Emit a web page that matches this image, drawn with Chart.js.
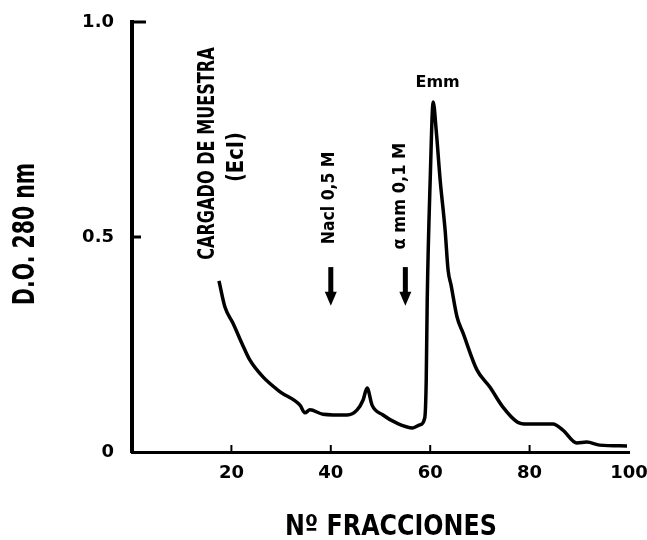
<!DOCTYPE html>
<html>
<head>
<meta charset="utf-8">
<script src="https://cdn.jsdelivr.net/npm/chart.js@4.4.1/dist/chart.umd.min.js"></script>
<style>
  html, body { margin: 0; padding: 0; background: #fff; }
  canvas { display: block; }
</style>
</head>
<body>
<canvas id="elution" width="647" height="540"></canvas>
<script>
// perfil de elución: nº de fracción y D.O. a 280 nm
const fractions = [17.5, 18.7, 20.3, 22.1, 23.7, 26.4, 29.8, 33.8, 34.8, 35.8, 38.4, 43.3, 45.3, 46.5, 47.3, 48.3, 50.5, 53.3, 56.5, 57.9, 58.9, 59.2, 59.4, 60.0, 60.6, 61.2, 62.0, 63.0, 63.6, 64.2, 65.4, 66.6, 69.4, 72.0, 74.6, 77.5, 79.5, 84.7, 86.7, 89.5, 91.5, 94.1, 99.6];
const absorbance = [0.398, 0.337, 0.300, 0.253, 0.214, 0.174, 0.140, 0.109, 0.091, 0.098, 0.088, 0.086, 0.098, 0.121, 0.149, 0.109, 0.086, 0.067, 0.056, 0.063, 0.079, 0.167, 0.353, 0.633, 0.814, 0.749, 0.633, 0.516, 0.423, 0.388, 0.314, 0.277, 0.191, 0.151, 0.105, 0.070, 0.065, 0.065, 0.051, 0.021, 0.023, 0.016, 0.014];

const xTicks = [0, 20, 40, 60, 80, 100];
const xTickLabels = ['', '20', '40', '60', '80', '100'];
const yTicks = [0, 0.5, 1.0];
const yTickLabels = ['0', '0.5', '1.0'];

// fracciones donde se cambió el tampón (flechas)
const bufferChanges = [40, 55];

const points = fractions.map((f, i) => ({ x: f, y: absorbance[i] }));

function drawText(ctx, text, px, py, size, squeeze, angle) {
  ctx.save();
  ctx.translate(px, py);
  ctx.rotate(angle || 0);
  ctx.scale(squeeze, 1);
  ctx.font = 'bold ' + size + 'px "DejaVu Sans"';
  ctx.fillStyle = '#000';
  ctx.textAlign = 'center';
  ctx.textBaseline = 'middle';
  ctx.fillText(text, 0, 0);
  ctx.restore();
}

function drawArrow(ctx, px, yTop, yBottom) {
  ctx.save();
  ctx.fillStyle = '#000';
  ctx.fillRect(px - 2.5, yTop, 5, yBottom - yTop - 12);
  ctx.beginPath();
  ctx.moveTo(px - 6, yBottom - 14);
  ctx.lineTo(px + 6, yBottom - 14);
  ctx.lineTo(px, yBottom);
  ctx.closePath();
  ctx.fill();
  ctx.restore();
}

const annotate = {
  id: 'annotate',
  afterDraw(chart) {
    const { ctx, scales: { x, y } } = chart;
    const up = -Math.PI / 2;

    // marcas hacia dentro
    ctx.save();
    ctx.strokeStyle = '#000';
    ctx.lineWidth = 2;
    xTicks.slice(1, -1).forEach(v => {
      const px = x.getPixelForValue(v);
      ctx.beginPath();
      ctx.moveTo(px, y.getPixelForValue(0));
      ctx.lineTo(px, y.getPixelForValue(0) - 7);
      ctx.stroke();
    });
    ctx.lineWidth = 3;
    [[0.5, 9], [1.0, 14]].forEach(([v, len]) => {
      const py = y.getPixelForValue(v);
      ctx.beginPath();
      ctx.moveTo(x.getPixelForValue(0), py);
      ctx.lineTo(x.getPixelForValue(0) + len, py);
      ctx.stroke();
    });
    ctx.restore();

    drawText(ctx, 'CARGADO DE MUESTRA', x.getPixelForValue(15.3), y.getPixelForValue(0.694), 23, 0.70, up);
    drawText(ctx, '(EcI)', x.getPixelForValue(21.1), y.getPixelForValue(0.686), 23, 0.85, up);
    drawText(ctx, 'Nacl 0,5 M', x.getPixelForValue(39.8), y.getPixelForValue(0.591), 18, 0.87, up);
    drawText(ctx, 'α mm 0,1 M', x.getPixelForValue(53.9), y.getPixelForValue(0.595), 18, 0.9, up);
    drawText(ctx, 'Emm', x.getPixelForValue(61.5), y.getPixelForValue(0.858), 16, 1, 0);

    bufferChanges.forEach(f => {
      drawArrow(ctx, x.getPixelForValue(f), y.getPixelForValue(0.430), y.getPixelForValue(0.340));
    });

    // títulos de los ejes
    drawText(ctx, 'D.O. 280 nm', y.left + 26, y.getPixelForValue(0.507), 30, 0.68, up);
    drawText(ctx, 'Nº FRACCIONES', x.getPixelForValue(52.1), x.bottom - 12, 28, 0.85, 0);
  }
};

const tickFont = { family: 'DejaVu Sans', size: 18, weight: 'bold' };

new Chart(document.getElementById('elution'), {
  type: 'line',
  data: {
    datasets: [{
      data: points,
      borderColor: '#000',
      borderWidth: 3.5,
      pointRadius: 0,
      fill: false,
      cubicInterpolationMode: 'monotone'
    }]
  },
  options: {
    responsive: false,
    animation: false,
    layout: { padding: { top: 22, right: 18, left: 0, bottom: 0 } },
    plugins: { legend: { display: false }, tooltip: { enabled: false } },
    scales: {
      x: {
        type: 'linear',
        min: 0,
        max: 100,
        grid: { display: false },
        border: { color: '#000', width: 3 },
        ticks: {
          stepSize: 20,
          color: '#000',
          font: tickFont,
          padding: 3,
          maxRotation: 0,
          autoSkip: false,
          callback: v => xTickLabels[xTicks.indexOf(v)] ?? ''
        },
        afterFit(s) {
          s.height = 88;
          s.paddingLeft = 0;
          s.paddingRight = 0;
        }
      },
      y: {
        min: 0,
        max: 1,
        grid: { display: false },
        border: { color: '#000', width: 4 },
        ticks: {
          stepSize: 0.5,
          color: '#000',
          font: tickFont,
          padding: 10,
          callback: v => yTickLabels[yTicks.indexOf(v)] ?? ''
        },
        afterFit(s) { s.width = 132; }
      }
    }
  },
  plugins: [annotate]
});
</script>
</body>
</html>
